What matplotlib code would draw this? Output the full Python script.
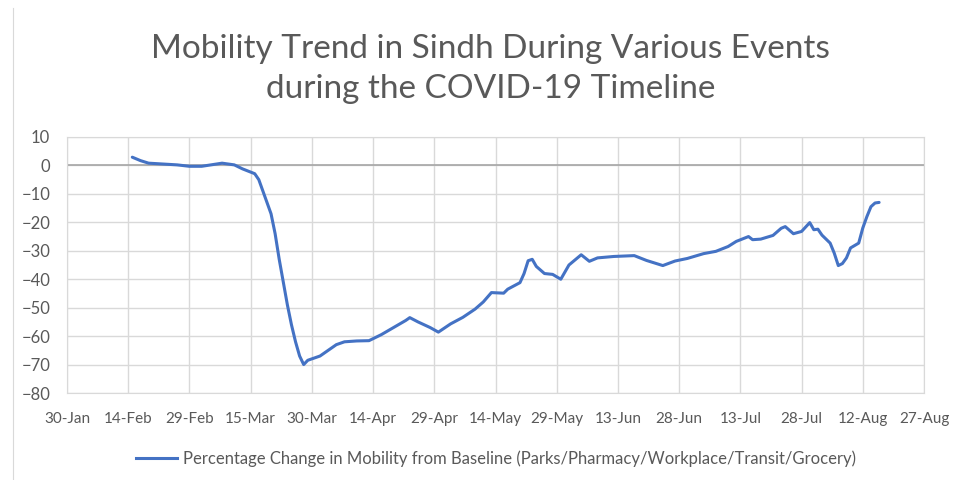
import matplotlib
matplotlib.use("Agg")
import matplotlib.pyplot as plt
import matplotlib.dates as mdates
import matplotlib.lines as mlines
import pandas as pd

plt.rcParams['font.family'] = ['Lato', 'DejaVu Sans']

# values (2020)
dates = ["02-15", "02-17", "02-19", "02-26", "02-29", "03-03", "03-08", "03-11",
         "03-13", "03-16", "03-17", "03-18", "03-19", "03-20", "03-21", "03-22",
         "03-23", "03-24", "03-25", "03-26", "03-27", "03-28", "03-29", "03-30",
         "03-31", "04-01", "04-03", "04-05", "04-07", "04-10", "04-13", "04-16",
         "04-19", "04-22", "04-23", "04-25", "04-28", "04-30", "05-03", "05-06",
         "05-09", "05-11", "05-13", "05-16", "05-17", "05-20", "05-21", "05-22",
         "05-23", "05-24", "05-26", "05-28", "05-30", "06-01", "06-04", "06-06",
         "06-08", "06-12", "06-17", "06-20", "06-24", "06-27", "06-30", "07-04",
         "07-07", "07-10", "07-12", "07-15", "07-16", "07-18", "07-21", "07-23",
         "07-24", "07-26", "07-28", "07-30", "07-31", "08-01", "08-02", "08-04",
         "08-05", "08-06", "08-07", "08-08", "08-09", "08-11", "08-12", "08-13",
         "08-14", "08-15", "08-16"]
mobility = [2.9, 1.7, 0.8, 0.2, -0.3, -0.3, 0.8, 0.2,
            -1.2, -2.9, -5, -9, -13, -17, -24, -33,
            -41, -49, -56, -62, -67, -70, -68.5, -68,
            -67.5, -67, -65, -63, -62, -61.7, -61.6, -59.5,
            -57, -54.5, -53.5, -55, -57, -58.6, -55.7, -53.4,
            -50.5, -48, -44.7, -44.9, -43.5, -41.2, -38, -33.5,
            -33, -35.5, -38, -38.3, -40, -35, -31.4, -33.7,
            -32.5, -32, -31.7, -33.4, -35.2, -33.6, -32.7, -31,
            -30.2, -28.5, -26.7, -25, -26.1, -25.9, -24.6, -22.1,
            -21.5, -24, -23.2, -20.1, -22.6, -22.4, -24.5, -27.3,
            -30.8, -35.2, -34.5, -32.5, -29, -27.3, -22, -18,
            -14.5, -13.2, -13]
x = pd.to_datetime(["2020-" + d for d in dates])

tick_dates = pd.date_range("2020-01-30", "2020-08-27", freq="15D")
series_name = "Percentage Change in Mobility from Baseline (Parks/Pharmacy/Workplace/Transit/Grocery)"

fig = plt.figure(figsize=(9.71, 4.8), dpi=100)
ax = fig.add_axes([67 / 971, 1 - 393 / 480, (924 - 67) / 971, (393 - 137) / 480])

blue = "#4472C4"
grey = "#595959"
ax.plot(x, mobility, color=blue, lw=2.2, solid_capstyle="round", solid_joinstyle="round")

ax.set_xlim(tick_dates[0], tick_dates[-1])
ax.set_ylim(-80, 10)
ax.set_yticks(range(-80, 11, 10))
ax.set_xticks(tick_dates)
ax.xaxis.set_major_formatter(mdates.DateFormatter("%-d-%b"))
ax.grid(True, color="#D9D9D9", lw=1)
ax.set_axisbelow(True)
ax.axhline(0, color="#A6A6A6", lw=1.2, zorder=1)
for s in ax.spines.values():
    s.set_color("#D9D9D9")
ax.tick_params(length=0, colors=grey)
ax.tick_params(axis="x", labelsize=11, pad=14)
ax.tick_params(axis="y", labelsize=12, pad=12)

fig.text(0.505, 1 - 69 / 480, "Mobility Trend in Sindh During Various Events\nduring the COVID-19 Timeline",
         ha="center", va="center", fontsize=24, color=grey, linespacing=1.4)

handle = mlines.Line2D([], [], color=blue, lw=2.2)
fig.legend([handle], [series_name], loc="center", bbox_to_anchor=(0.511, 1 - 459 / 480),
           frameon=False, fontsize=12, labelcolor=grey, handlelength=2.45, handletextpad=0.35)

# faint chart border on the left
fig.add_artist(mlines.Line2D([13 / 971, 13 / 971], [0, 1 - 8 / 480], color="#D9D9D9", lw=0.8,
                             transform=fig.transFigure))

fig.savefig("out.png", dpi=100)
